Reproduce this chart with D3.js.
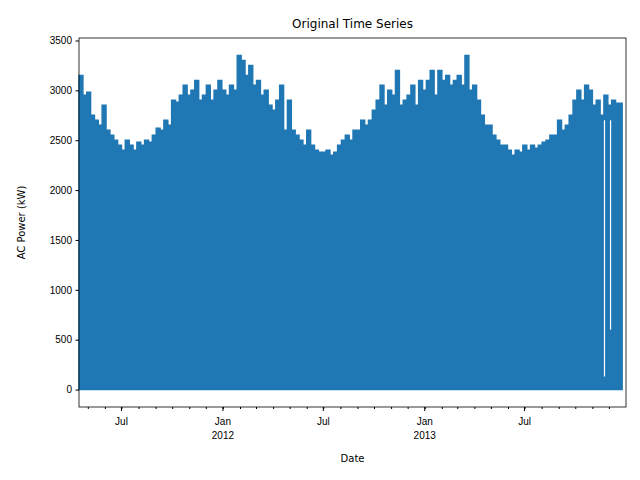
<!DOCTYPE html>
<meta charset="utf-8">
<script src="https://d3js.org/d3.v7.min.js"></script>
<body style="margin:0;background:#fff">
<div id="chart"></div>
<script>
// weekly peak AC power (kW), first week starting 2011-04-15
var startDate = "2011-04-15";
var endDate = "2013-12-25";
var weeklyPeak = [
  3150, 2950,
  2980, 2750, 2700, 2650,
  2850, 2600, 2550, 2500,
  2450, 2400, 2500, 2450, 2400,
  2480, 2450, 2500, 2480,
  2550, 2620, 2600, 2700,
  2650, 2900, 2880, 2950, 3050,
  2950, 3000, 3100, 2900,
  2950, 3050, 2900, 3000,
  3100, 3000, 2950, 3050, 3000,
  3350, 3300, 3150, 3250,
  3050, 3100, 2950, 3000, 2850,
  2800, 2900, 3050, 2600,
  2900, 2600, 2550, 2500,
  2450, 2600, 2450, 2400, 2380,
  2380, 2400, 2350, 2380,
  2450, 2500, 2550, 2500, 2600,
  2600, 2700, 2650, 2700,
  2800, 2900, 3050, 2850,
  3000, 2950, 3200, 2850, 2900,
  2950, 3050, 2850, 3100,
  3000, 3100, 3200, 2950,
  3200, 3100, 3150, 3050,
  3100, 3150, 3050, 3350, 3000,
  3050, 2900, 2750, 2650,
  2650, 2550, 2500, 2450,
  2450, 2400, 2350, 2400, 2380,
  2450, 2400, 2450, 2420,
  2450, 2480, 2500, 2550,
  2550, 2700, 2600, 2650, 2750,
  2900, 3000, 2900, 3050,
  3000, 2850, 2900, 2750,
  2950, 2850, 2900, 2870
];
// outages (missing hours) drawn as gaps: date, value the gap reaches down to
var gapDates = ["2013-11-23", "2013-12-04"];
var gapLows = [130, 600];
var yTicks = [0, 500, 1000, 1500, 2000, 2500, 3000, 3500];

var margin = {top: 38, right: 14, bottom: 73, left: 79},
    width = 640 - margin.left - margin.right,
    height = 480 - margin.top - margin.bottom;

var svg = d3.select("#chart").append("svg")
    .attr("width", 640).attr("height", 480)
    .style("font-family", "DejaVu Sans, sans-serif");
var g = svg.append("g").attr("transform", "translate(" + margin.left + "," + margin.top + ")");

var parse = d3.timeParse("%Y-%m-%d");
var t0 = parse(startDate);
var data = weeklyPeak.map(function(v, i) { return {date: d3.timeDay.offset(t0, i * 7), value: v}; });
data.push({date: parse(endDate), value: weeklyPeak[weeklyPeak.length - 1]});

var x = d3.scaleTime().domain([t0, parse("2014-01-01")]).range([0, width]);
var y = d3.scaleLinear().domain([-175, 3525]).range([height, 0]);

g.append("path").datum(data)
  .attr("fill", "#1f77b4").attr("stroke", "#1f77b4").attr("stroke-width", 1.5)
  .attr("d", d3.area().curve(d3.curveStepAfter)
    .x(function(d) { return x(d.date); }).y0(y(0)).y1(function(d) { return y(d.value); }));

gapDates.forEach(function(s, i) {
  g.append("line").attr("x1", x(parse(s))).attr("x2", x(parse(s)))
    .attr("y1", y(gapLows[i])).attr("y2", y(2700))
    .attr("stroke", "#fff").attr("stroke-width", 1.2);
});

// axes
var months = d3.timeMonth.range(parse("2011-05-01"), parse("2013-12-31"));
var xAxis = g.append("g").attr("transform", "translate(0," + height + ")");
xAxis.call(d3.axisBottom(x).tickValues(months).tickSize(2).tickFormat(""));
var majors = months.filter(function(d) { return d.getMonth() === 0 || d.getMonth() === 6; });
var maj = xAxis.selectAll(".maj").data(majors).enter().append("g")
  .attr("transform", function(d) { return "translate(" + x(d) + ",0)"; });
maj.append("line").attr("y2", 4).attr("stroke", "#000");
maj.append("text").attr("y", 18).attr("text-anchor", "middle").attr("font-size", 10).attr("fill", "#000")
  .text(function(d) { return d.getMonth() === 0 ? "Jan" : "Jul"; });
maj.filter(function(d) { return d.getMonth() === 0; }).append("text")
  .attr("y", 32).attr("text-anchor", "middle").attr("font-size", 10).attr("fill", "#000")
  .text(function(d) { return d.getFullYear(); });

g.append("g").call(d3.axisLeft(y).tickValues(yTicks).tickSize(3.5).tickPadding(3.5).tickFormat(d3.format("d")))
  .selectAll("text").attr("font-size", 10).attr("fill", "#000");
g.selectAll(".domain").remove();
g.append("rect").attr("width", width).attr("height", height)
  .attr("fill", "none").attr("stroke", "#000").attr("stroke-width", 0.8);

svg.append("text").attr("x", margin.left + width / 2).attr("y", 28)
  .attr("text-anchor", "middle").attr("font-size", 12).text("Original Time Series");
svg.append("text").attr("x", margin.left + width / 2).attr("y", 462)
  .attr("text-anchor", "middle").attr("font-size", 10).text("Date");
svg.append("text").attr("transform", "translate(25," + (margin.top + height / 2) + ") rotate(-90)")
  .attr("text-anchor", "middle").attr("font-size", 10).text("AC Power (kW)");
</script>
</body>
